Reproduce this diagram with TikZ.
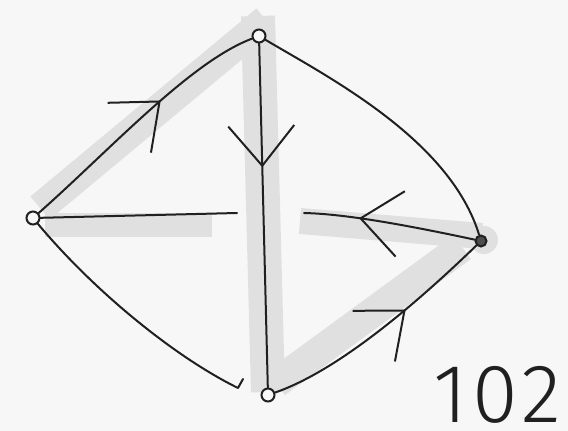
\documentclass[tikz,border=0pt]{standalone}
\usepackage{fontspec}
\newfontfamily\handfont[LetterSpace=5]{Fira Sans Light}
\usetikzlibrary{arrows.meta,decorations.markings}
\definecolor{ink}{RGB}{32,32,32}
\definecolor{bandgray}{RGB}{224,224,224}
\definecolor{paper}{RGB}{247,247,247}
\begin{document}
\begin{tikzpicture}[x=1pt,y=-1pt,
  edge/.style={draw=ink, line width=2pt, line cap=round, line join=round},
  band/.style={draw=bandgray, line width=#1, line cap=butt},
  vert/.style={circle, draw=ink, fill=paper, line width=2pt, minimum size=13pt, inner sep=0pt},
  midarrow/.style={postaction={decorate}, decoration={markings,
     mark=at position #1 with {\arrow{Straight Barb[length=40pt,width=66pt,line width=2pt]}}}}
]
\useasboundingbox (0,0) rectangle (568,431);
\fill[paper] (0,0) rectangle (568,431);
% shaded bands
\draw[band=30pt] (40,208) -- (266,20);
\draw[band=34pt] (258,16) -- (268,392);
\draw[band=24pt] (45,225) -- (212,225);
\draw[band=26pt] (300,221) -- (482,236);
\draw[band=30pt] (276,383) -- (462,247);
\fill[bandgray] (484,240) circle (14);
% vertices
\node[vert] (T) at (259,36) {};
\node[vert] (L) at (33,218) {};
\node[vert, fill=ink!80, minimum size=11pt] (R) at (481,241) {};
\node[vert] (B) at (268,395) {};
% free ends
\coordinate (lc) at (237,213);
\coordinate (rc) at (304,213);
\coordinate (lbend) at (238,388);
\coordinate (lbhook) at (243,379);
% edges
\draw[edge, midarrow=0.6] (L) .. controls (110,150) and (190,62) .. (T);
\draw[edge] (T) .. controls (330,78) and (450,140) .. (R);
\draw[edge, midarrow=0.36] (T) -- (B);
\draw[edge] (L) .. controls (95,292) and (175,357) .. (lbend) -- (lbhook);
\draw[edge, midarrow=0.62] (B) .. controls (340,370) and (420,300) .. (R);
\draw[edge] (L) -- (lc);
\draw[edge, midarrow=0.68] (R) .. controls (420,228) and (350,214) .. (rc);
% label
\node[font=\handfont\fontsize{83}{83}\selectfont, text=ink, anchor=base east, inner sep=0pt, text height=58pt, text depth=0pt] (lbl) at (561,422) {102};
\end{tikzpicture}
\end{document}
